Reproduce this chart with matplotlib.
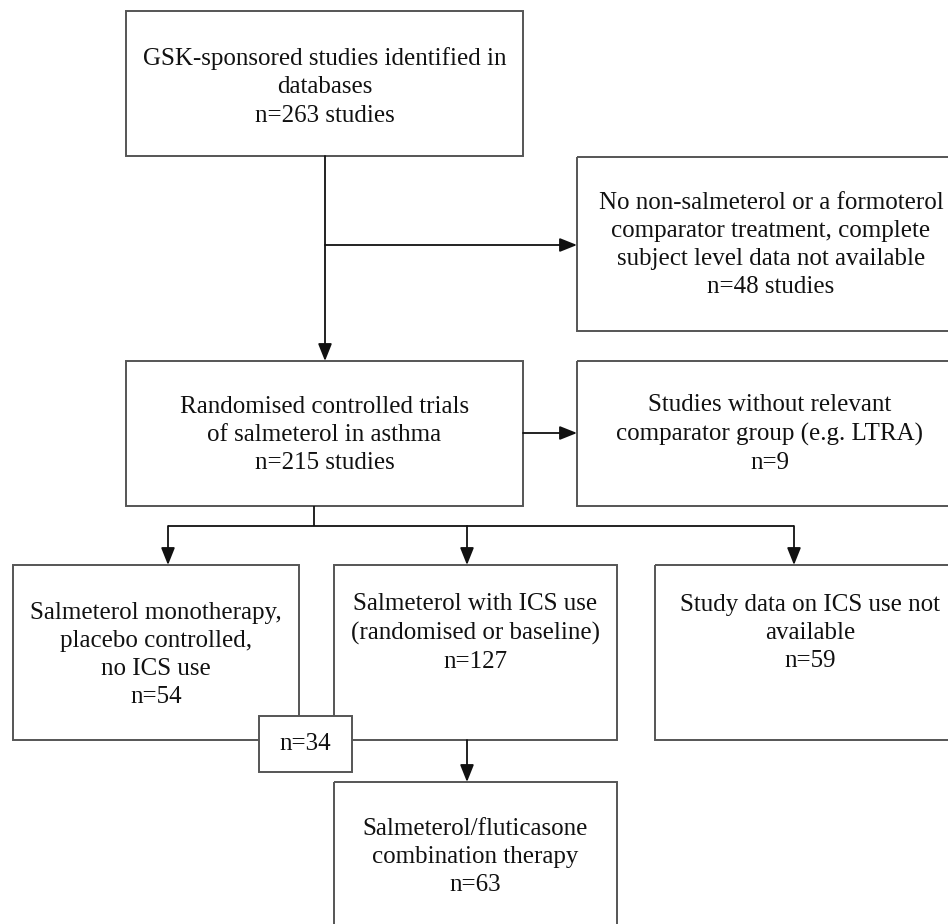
import matplotlib
matplotlib.use("Agg")
import matplotlib.pyplot as plt
from matplotlib.patches import Rectangle

# ---- data (texts and counts) ----
box_titles = [
    "GSK-sponsored studies identified in\ndatabases",
    "No non-salmeterol or a formoterol\ncomparator treatment, complete\nsubject level data not available",
    "Randomised controlled trials\nof salmeterol in asthma",
    "Studies without relevant\ncomparator group (e.g. LTRA)",
    "Salmeterol monotherapy,\nplacebo controlled,\nno ICS use",
    "Salmeterol with ICS use\n(randomised or baseline)",
    "Study data on ICS use not\navailable",
    "Salmeterol/fluticasone\ncombination therapy",
]
box_counts = [263, 48, 215, 9, 54, 127, 59, 63]
count_suffix = [" studies", " studies", " studies", "", "", "", "", ""]
overlap_count = 34

# ---- layout (pixel coordinates, y downward) ----
W, H = 948, 924
# x0, y0, x1, y1, text center y
layout = [
    (126, 11, 523, 156, 87),
    (577, 157, 965, 331, 245),
    (126, 361, 523, 506, 435),
    (577, 361, 962, 506, 434),
    (13, 565, 299, 740, 655),
    (334, 565, 617, 740, 633),
    (655, 565, 965, 740, 633),
    (334, 782, 617, 940, 857),
]
overlap_box = (259, 716, 352, 772)

fig = plt.figure(figsize=(W / 100, H / 100), dpi=100)
ax = fig.add_axes([0, 0, 1, 1])
ax.set_xlim(0, W)
ax.set_ylim(H, 0)
ax.axis("off")

FONT = "Liberation Serif"
FS = 18
LS = 1.36
box_color = "#555555"
line_color = "#111111"

for (x0, y0, x1, y1, ty), title, n, suf in zip(layout, box_titles, box_counts, count_suffix):
    ax.add_patch(Rectangle((x0, y0), x1 - x0, y1 - y0, fill=False,
                           edgecolor=box_color, linewidth=1.4))
    ax.text((x0 + x1) / 2, ty, f"{title}\nn={n}{suf}", ha="center", va="center",
            fontsize=FS, family=FONT, color="#111111", linespacing=LS)

def line(xs, ys):
    ax.plot(xs, ys, color=line_color, linewidth=1.3, solid_capstyle="butt")

def arrow(x0, y0, x1, y1):
    ax.annotate("", xy=(x1, y1), xytext=(x0, y0),
                arrowprops=dict(arrowstyle="-|>,head_length=0.7,head_width=0.28",
                                color=line_color, lw=1.3, shrinkA=0, shrinkB=0,
                                mutation_scale=15))

# connectors
arrow(325, 156, 325, 361)
arrow(325, 245, 577, 245)
arrow(523, 433, 577, 433)
line([314, 314], [506, 526])
line([168, 794], [526, 526])
for x in (168, 467, 794):
    arrow(x, 526, x, 565)
arrow(467, 740, 467, 782)

# overlap box
ox0, oy0, ox1, oy1 = overlap_box
ax.add_patch(Rectangle((ox0, oy0), ox1 - ox0, oy1 - oy0, facecolor="white",
                       edgecolor=box_color, linewidth=1.4, zorder=3))
ax.text((ox0 + ox1) / 2, (oy0 + oy1) / 2, f"n={overlap_count}", ha="center",
        va="center", fontsize=FS, family=FONT, color="#111111", zorder=4)

fig.savefig("out.png", dpi=100, facecolor="white")
